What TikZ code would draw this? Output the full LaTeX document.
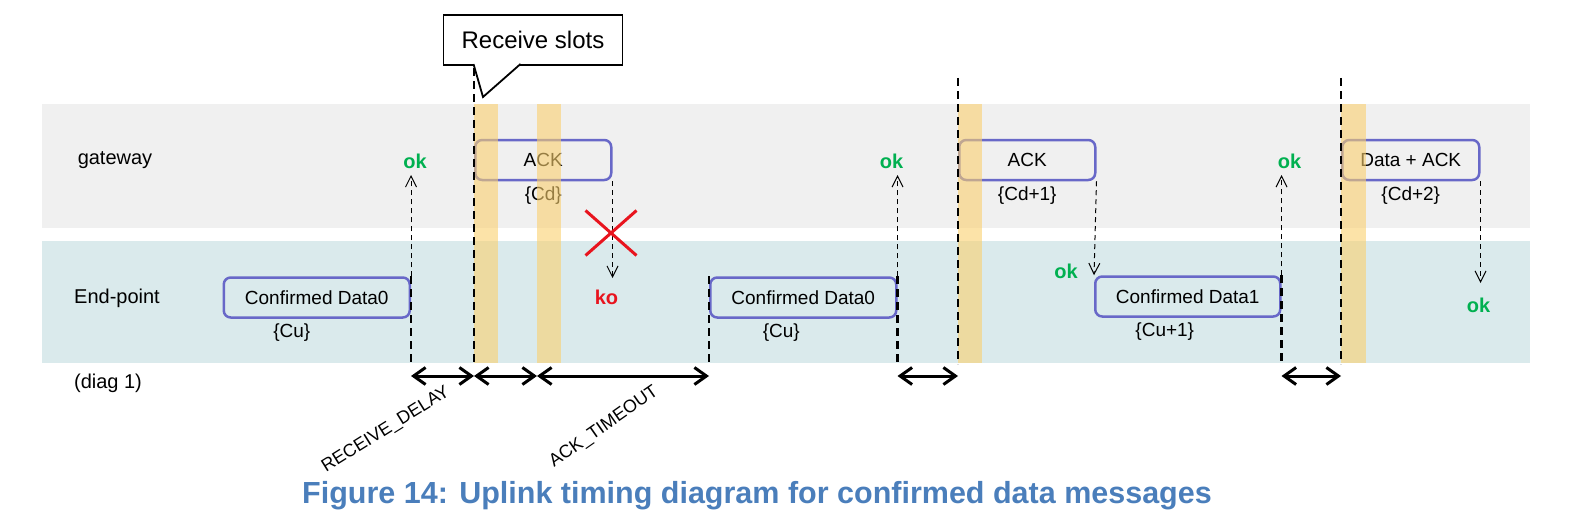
\documentclass[tikz,border=0pt]{standalone}
\usepackage{fontspec}
\setmainfont{Liberation Sans}
\usetikzlibrary{positioning,arrows.meta,backgrounds,shapes.misc}
\definecolor{gricadru}{RGB}{240,240,240}
\definecolor{turcoaz}{RGB}{218,234,236}
\definecolor{albastru}{RGB}{104,104,200}
\definecolor{galben}{RGB}{250,208,110}
\definecolor{verde}{RGB}{0,176,80}
\definecolor{rosu}{RGB}{232,20,30}
\definecolor{titlu}{RGB}{74,126,187}
\newcommand{\marime}[1]{\fontsize{#1}{#1}\selectfont}
\tikzset{
  cadru/.style    = {draw=albastru, line width=2.5pt, rounded corners=7pt, inner sep=0pt,
                     minimum height=40pt, font=\marime{19}},
  eticheta/.style = {font=\marime{20}, inner sep=2pt},
  indice/.style   = {font=\marime{19}, inner sep=2pt},
  okv/.style      = {font=\marime{20}\bfseries, text=verde, inner sep=2pt},
  kov/.style      = {okv, text=rosu},
  durata/.style   = {font=\marime{18}, inner sep=1pt},
  balon/.style    = {draw, fill=white, line width=1.8pt, outer sep=0pt, minimum width=179pt,
                     minimum height=50pt, font=\marime{24}},
  cioc/.style     = {draw, fill=white, line width=1.8pt, line join=miter},
  cruce/.style    = {cross out, draw=rosu, line width=3pt, minimum width=48pt, minimum height=42pt},
  fereastra/.style= {fill=galben, opacity=0.6},
  limita/.style   = {line width=2.2pt, dash pattern=on 8pt off 5pt},
  punctat/.style  = {-{Straight Barb[length=11pt,width=11pt]}, line width=1pt, dash pattern=on 5pt off 4pt},
  sageata/.style  = {{Straight Barb[length=12pt,width=17pt]}-{Straight Barb[length=12pt,width=17pt]}, line width=3pt}
}
\begin{document}
\begin{tikzpicture}[x=1pt, y=-1pt, node distance=4pt]
  \useasboundingbox (0,0) rectangle (1569,527);
  \coordinate (sus1) at (0,68);
  \coordinate (sus) at (0,78);
  \coordinate (vf) at (0,175);
  \coordinate (vj) at (0,278);
  \coordinate (vj2) at (0,283);
  \coordinate (jos) at (0,364);
  \coordinate (rand) at (0,376);
  \coordinate (f1) at (474,104);
  \coordinate (f2) at (537,104);
  \coordinate (f3) at (958,104);
  \coordinate (f4) at (1341,104);
  \coordinate (varf) at (483,97);

  \node[eticheta] (gw) at (115,160) {gateway};
  \node[eticheta] (ep) at (117,298) {End-point};
  \node[eticheta] (dg) at (108,383) {(diag 1)};

  \node[cadru, minimum width=186pt, anchor=east] (cd0a) at (411,297.5) {Confirmed Data0};
  \node[cadru, minimum width=136pt, anchor=west] (ack1) at (474,160) {ACK};
  \node[cadru, minimum width=186pt, anchor=west] (cd0b) at (709,297.5) {Confirmed Data0};
  \node[cadru, minimum width=136pt, anchor=west] (ack2) at (958,160) {ACK};
  \node[cadru, minimum width=185pt, anchor=west] (cd1) at (1094,296.5) {Confirmed Data1};
  \node[cadru, minimum width=137pt, anchor=west] (dack) at (1341,160) {Data + ACK};

  \node[indice, below=3pt of cd0a, xshift=-25pt] (cu0a) {\{Cu\}};
  \node[indice, below=3pt of ack1] (cdl0) {\{Cd\}};
  \node[indice, below=3pt of cd0b, xshift=-22pt] (cu0b) {\{Cu\}};
  \node[indice, below=3pt of ack2] (cdl1) {\{Cd+1\}};
  \node[indice, below=3pt of cd1, xshift=-23pt] (cu1) {\{Cu+1\}};
  \node[indice, below=3pt of dack] (cdl2) {\{Cd+2\}};

  \node[balon] (slots) at (533,40) {Receive slots};
  \path[cioc] ([xshift=30pt,yshift=1pt]slots.south west) -- (varf) -- ([xshift=77pt,yshift=1pt]slots.south west);

  \fill[fereastra] (f1) rectangle ++(24,259);
  \fill[fereastra] (f2) rectangle ++(24,259);
  \fill[fereastra] (f3) rectangle ++(24,259);
  \fill[fereastra] (f4) rectangle ++(25,259);

  \draw[limita] (ack1.north west |- sus1) -- (ack1.north west |- jos);
  \draw[limita] (ack2.north west |- sus) -- (ack2.north west |- jos);
  \draw[limita] (dack.north west |- sus) -- (dack.north west |- jos);
  \draw[limita] (cd0a.north east) -- (cd0a.north east |- jos);
  \draw[limita] (cd0b.north west) -- (cd0b.north west |- jos);
  \draw[limita] (cd0b.north east) -- (cd0b.north east |- jos);
  \draw[limita] (cd1.north east) -- (cd1.north east |- jos);

  \coordinate (v1) at (cd0a.north east |- vf);
  \coordinate (v2) at (cd0b.north east |- vf);
  \coordinate (v3) at (cd1.north east |- vf);
  \coordinate (k1) at (ack1.south east |- vj);
  \coordinate (k2) at (dack.south east |- vj2);
  \draw[punctat] (cd0a.north east) -- (v1);
  \draw[punctat] (cd0b.north east) -- (v2);
  \draw[punctat] (cd1.north east) -- (v3);
  \draw[punctat] (ack1.south east) -- (k1);
  \draw[punctat] (ack2.south east) -- (cd1.north west);
  \draw[punctat] (dack.south east) -- (k2);

  \node[okv, above=4pt of v1, xshift=4pt] (ok1) {ok};
  \node[okv, above=4pt of v2, xshift=-6pt] (ok2) {ok};
  \node[okv, above=4pt of v3, xshift=8pt] (ok3) {ok};
  \node[okv, left=14pt of cd1.north west, yshift=4pt] (ok4) {ok};
  \node[okv, below=13pt of k2, xshift=-2pt] (ok5) {ok};
  \node[kov, below=10pt of k1, xshift=-6pt] (ko1) {ko};
  \node[cruce] (pierdut) at (611,233) {};

  \draw[sageata] (cd0a.north east |- rand) -- (ack1.north west |- rand);
  \draw[sageata] (ack1.north west |- rand) -- (f2 |- rand);
  \draw[sageata] (f2 |- rand) -- (cd0b.north west |- rand);
  \draw[sageata] (cd0b.north east |- rand) -- (ack2.north west |- rand);
  \draw[sageata] (cd1.north east |- rand) -- (dack.north west |- rand);

  \node[durata, rotate=32] (rdel) at (386,430) {RECEIVE\_DELAY};
  \node[durata, rotate=35] (atmo) at (604,427) {ACK\_TIMEOUT};

  \node[font=\marime{30.5}\bfseries, text=titlu] (fig) at (757,496) {Figure 14: Uplink timing diagram for confirmed data messages};

  \begin{scope}[on background layer]
    \fill[gricadru] (42,104) rectangle (1530,228);
    \fill[turcoaz] (42,241) rectangle (1530,363);
  \end{scope}
\end{tikzpicture}
\end{document}
